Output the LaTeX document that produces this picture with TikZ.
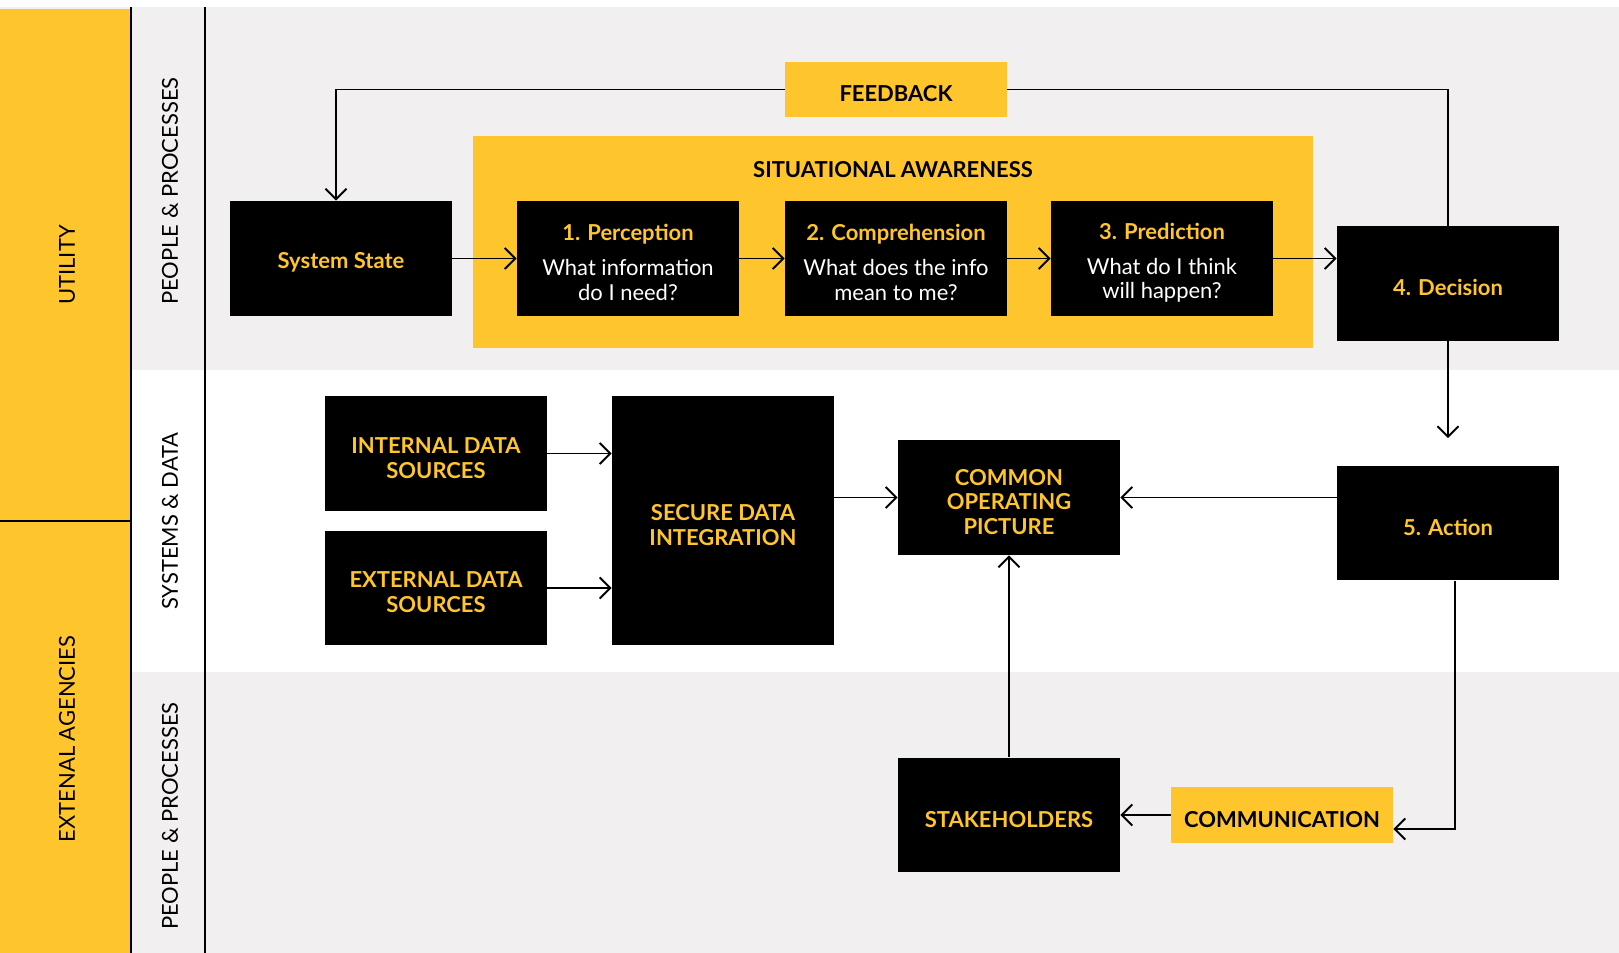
\documentclass[tikz,border=0pt]{standalone}
\usepackage{fontspec}
\setmainfont{Lato}
\usepackage{tikz}
\usetikzlibrary{arrows.meta}

\definecolor{sunny}{RGB}{255,197,44}
\definecolor{paper}{RGB}{241,239,240}
\newcommand{\lift}{\rule{0pt}{14pt}}% taller first line, text sits lower in the box

\begin{document}
\begin{tikzpicture}[x=0.02cm,y=-0.02cm,
  font=\fontsize{12.5}{14}\selectfont,
  blackbox/.style={fill=black,text=sunny,align=center,minimum width=4.44cm,minimum height=2.3cm,inner sep=0pt,
    execute at begin node={\lift}},
  stagebox/.style={blackbox,text=white},
  tagbox/.style={fill=sunny,minimum width=4.44cm,minimum height=1.12cm,inner sep=0pt,
    execute at begin node={\lift}},
  lane/.style={rotate=90},
  arr/.style={line width=1.1pt,-{Straight Barb[length=6pt,width=12pt]}}
]
\useasboundingbox (0,0) rectangle (1619,953);

% bands
\fill[white] (0,0) rectangle (1619,953);
\fill[paper] (0,7) rectangle (1619,370);
\fill[paper] (131,672) rectangle (1619,953);
\fill[sunny] (0,9) rectangle (131,953);
\draw[line width=1.1pt] (0,521) -- (131,521);
\draw[line width=1.1pt] (131,7) -- (131,953);
\draw[line width=1.1pt] (205,7) -- (205,953);

\node[lane] (utility) at (67,265) {UTILITY};
\node[lane] (agencies) at (67,739) {EXTENAL AGENCIES};
\node[lane] (toppeople) at (170,191) {PEOPLE \& PROCESSES};
\node[lane] (systems) at (170,521) {SYSTEMS \& DATA};
\node[lane] (lowpeople) at (170,816) {PEOPLE \& PROCESSES};

\node[
      fill=sunny,
      minimum width=16.8cm,
      minimum height=4.24cm,
      label={[anchor=north,yshift=-0.4cm]north:{\bfseries SITUATIONAL AWARENESS}}%<-- title sits inside the box
] (awareness) at (893,242) {};

\node[tagbox] (feedback) at (896,89.5) {\bfseries FEEDBACK};
\node[blackbox] (systemstate) at (341,258.5) {\bfseries System State};
\node[stagebox] (perception) at (628,258.5) {\lift\textcolor{sunny}{\bfseries 1. Perception}\\[6pt]What information\\do I need?};
\node[stagebox] (comprehension) at (896,258.5) {\lift\textcolor{sunny}{\bfseries 2. Comprehension}\\[6pt]What does the info\\mean to me?};
\node[stagebox] (prediction) at (1162,258.5) {\lift\textcolor{sunny}{\bfseries 3. Prediction}\\[6pt]What do I think\\will happen?};
\node[blackbox] (decision) at (1448,283.5) {\bfseries 4. Decision};

\node[blackbox] (internal) at (436,453.5) {\lift\bfseries INTERNAL DATA\\\bfseries SOURCES};
\node[blackbox] (external) at (436,588) {\lift\bfseries EXTERNAL DATA\\\bfseries SOURCES};
\node[blackbox,minimum height=4.98cm] (secure) at (723,520.5) {\lift\bfseries SECURE DATA\\\bfseries INTEGRATION};
\node[blackbox] (cop) at (1009,497.5) {\lift\bfseries COMMON\\\bfseries OPERATING\\\bfseries PICTURE};
\node[blackbox] (action) at (1448,523) {\bfseries 5. Action};

\node[blackbox] (stakeholders) at (1009,815) {\bfseries STAKEHOLDERS};
\node[tagbox] (communication) at (1282,815) {\bfseries COMMUNICATION};

% flow
\draw[arr] (systemstate) -- (perception);
\draw[arr] (perception) -- (comprehension);
\draw[arr] (comprehension) -- (prediction);
\draw[arr] (prediction) -- (prediction -| decision.west);
\draw[arr] (feedback) -| ([xshift=-0.1cm]systemstate.north);
\draw[line width=1.1pt] (feedback) -| (decision);
\draw[arr,shorten >=0.54cm] (decision) -- (action);
\draw[arr] (internal) -- (internal -| secure.west);
\draw[arr] (external) -- (external -| secure.west);
\draw[arr] (secure.east |- cop) -- (cop);
\draw[arr] (action.west |- cop) -- (cop);
\draw[arr] (stakeholders) -- (cop);
\draw[arr] (communication) -- (stakeholders);
\draw[arr] ([xshift=0.14cm]action.south) |- ([yshift=-0.28cm]communication.east);
\end{tikzpicture}
\end{document}
